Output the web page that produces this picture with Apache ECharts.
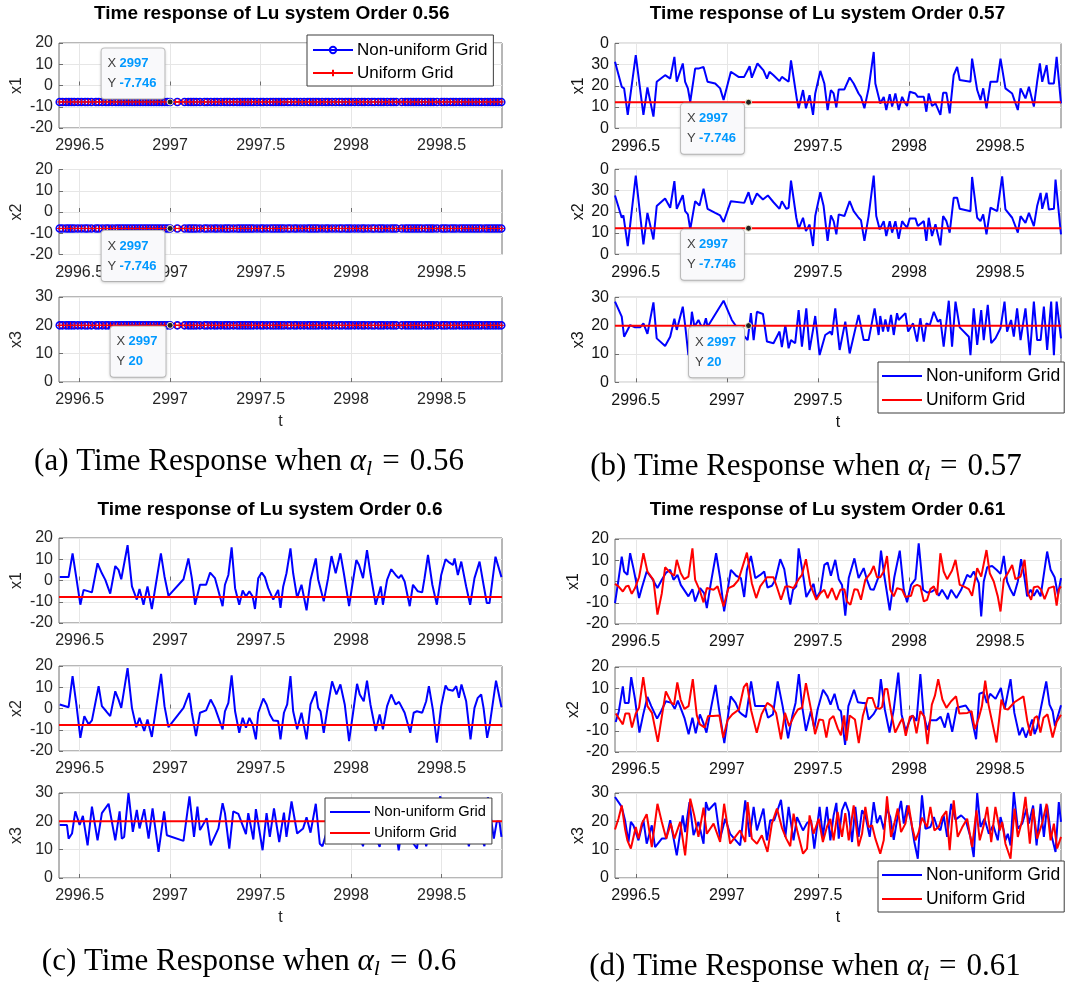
<!DOCTYPE html>
<html><head><meta charset="utf-8">
<script src="https://cdn.jsdelivr.net/npm/echarts@6/dist/echarts.min.js"></script>
<style>html,body{margin:0;padding:0;background:#fff}#c{width:1075px;height:982px}</style>
</head><body><div id="c"></div><script>
// ---------------- DATA ----------------
const xTicks = [2996.5, 2997, 2997.5, 2998, 2998.5];
const tMin = 2996.386, tMax = 2998.834;
const yTicksB12 = ['0', '10', '20', '30', '0']; // labels shown on panel (b) x1/x2 axes (bottom to top)

// panel (a): constant responses on non-uniform / uniform grids
const aX1Val = -7.746, aX2Val = -7.746, aX3Val = 20;
const tNonUniformA = [2996.39,2996.405,2996.425,2996.44,2996.455,2996.47,2996.49,2996.51,2996.53,2996.545,2996.565,2996.59,2996.605,2996.625,2996.645,2996.66,2996.68,2996.7,2996.715,2996.73,2996.745,2996.76,2996.775,2996.79,2996.805,2996.82,2996.835,2996.85,2996.865,2996.88,2996.895,2996.91,2996.925,2996.94,2996.955,2996.97,2996.985,2997.0,2997.04,2997.08,2997.1,2997.115,2997.13,2997.145,2997.165,2997.19,2997.205,2997.225,2997.245,2997.26,2997.28,2997.3,2997.315,2997.33,2997.35,2997.37,2997.385,2997.4,2997.415,2997.43,2997.445,2997.46,2997.48,2997.5,2997.515,2997.535,2997.555,2997.57,2997.585,2997.6,2997.615,2997.63,2997.65,2997.665,2997.685,2997.7,2997.72,2997.74,2997.76,2997.775,2997.79,2997.805,2997.82,2997.84,2997.86,2997.875,2997.895,2997.915,2997.935,2997.95,2997.97,2997.985,2998.0,2998.02,2998.04,2998.06,2998.075,2998.095,2998.115,2998.13,2998.15,2998.165,2998.18,2998.2,2998.22,2998.235,2998.25,2998.28,2998.3,2998.315,2998.33,2998.345,2998.36,2998.375,2998.39,2998.41,2998.425,2998.44,2998.455,2998.475,2998.5,2998.515,2998.53,2998.55,2998.565,2998.58,2998.6,2998.615,2998.63,2998.645,2998.66,2998.675,2998.69,2998.705,2998.72,2998.74,2998.755,2998.77,2998.785,2998.8,2998.815,2998.83];
const tUniformA = [2996.39,2996.41,2996.43,2996.45,2996.47,2996.49,2996.51,2996.53,2996.55,2996.57,2996.59,2996.61,2996.63,2996.65,2996.67,2996.69,2996.71,2996.73,2996.75,2996.77,2996.79,2996.81,2996.83,2996.85,2996.87,2996.89,2996.91,2996.93,2996.95,2996.97,2996.99,2997.01,2997.03,2997.05,2997.07,2997.09,2997.11,2997.13,2997.15,2997.17,2997.19,2997.21,2997.23,2997.25,2997.27,2997.29,2997.31,2997.33,2997.35,2997.37,2997.39,2997.41,2997.43,2997.45,2997.47,2997.49,2997.51,2997.53,2997.55,2997.57,2997.59,2997.61,2997.63,2997.65,2997.67,2997.69,2997.71,2997.73,2997.75,2997.77,2997.79,2997.81,2997.83,2997.85,2997.87,2997.89,2997.91,2997.93,2997.95,2997.97,2997.99,2998.01,2998.03,2998.05,2998.07,2998.09,2998.11,2998.13,2998.15,2998.17,2998.19,2998.21,2998.23,2998.25,2998.27,2998.29,2998.31,2998.33,2998.35,2998.37,2998.39,2998.41,2998.43,2998.45,2998.47,2998.49,2998.51,2998.53,2998.55,2998.57,2998.59,2998.61,2998.63,2998.65,2998.67,2998.69,2998.71,2998.73,2998.75,2998.77,2998.79,2998.81,2998.83];

// panel (b) non-uniform grid
const bX1 = [[2996.386,11.3],[2996.423,-0.5],[2996.436,-1.2],[2996.456,-13.7],[2996.5,14.4],[2996.542,-13.7],[2996.564,-0.8],[2996.597,-14.5],[2996.615,1.9],[2996.661,5],[2996.689,3.4],[2996.712,13.6],[2996.725,1.9],[2996.758,10.5],[2996.771,1.9],[2996.786,-1.2],[2996.799,-7.5],[2996.826,8.1],[2996.844,8.1],[2996.872,8.9],[2996.894,1.9],[2996.936,1.1],[2996.963,-1.2],[2996.982,-6.7],[2997.022,6.6],[2997.064,4.2],[2997.095,4.2],[2997.125,9.2],[2997.137,3.8],[2997.168,10.5],[2997.201,7.3],[2997.22,3.4],[2997.234,6.6],[2997.256,5],[2997.289,2.2],[2997.302,4.2],[2997.339,1.9],[2997.352,12],[2997.385,-6.7],[2997.394,-10.6],[2997.418,-2],[2997.434,-10.6],[2997.454,-4.4],[2997.473,-13.7],[2997.485,-3.6],[2997.513,7],[2997.535,1.1],[2997.553,-11.4],[2997.571,-2],[2997.586,-3.6],[2997.601,-10.2],[2997.614,-1.7],[2997.645,-1.7],[2997.674,3.9],[2997.696,1.1],[2997.723,-3.6],[2997.736,-5.2],[2997.755,-10.6],[2997.778,-1.2],[2997.806,15.9],[2997.815,1.1],[2997.842,-8.3],[2997.861,-5.2],[2997.875,-11.4],[2997.894,-3.9],[2997.907,-9.8],[2997.925,-3.6],[2997.943,-11.4],[2997.962,-5.2],[2997.974,-7.5],[2997.989,-9.5],[2998.004,-2.8],[2998.035,-3.6],[2998.048,-5.2],[2998.081,-5.2],[2998.095,-12.2],[2998.108,-3.6],[2998.126,-9.5],[2998.145,-8.3],[2998.172,-13.7],[2998.187,-3.3],[2998.205,-3.3],[2998.223,-13],[2998.245,5],[2998.264,8.9],[2998.278,2.7],[2998.337,1.9],[2998.346,12.8],[2998.374,-2],[2998.392,-6.7],[2998.407,-1.2],[2998.425,-10.6],[2998.447,1.9],[2998.484,1.9],[2998.502,12.8],[2998.529,-1.2],[2998.566,-3.6],[2998.575,-5.9],[2998.597,-11.4],[2998.612,-1.2],[2998.639,-5.9],[2998.658,-0.5],[2998.685,-9.8],[2998.703,1.9],[2998.718,10.5],[2998.731,1.9],[2998.755,9.7],[2998.767,1.1],[2998.795,1.1],[2998.81,13.6],[2998.834,-8.3]];
const bX2 = [[2996.386,7.7],[2996.423,-2.8],[2996.432,-1.7],[2996.456,-16.1],[2996.5,17],[2996.542,-15.3],[2996.564,-0.5],[2996.597,-13],[2996.615,2.7],[2996.661,6.3],[2996.689,1.9],[2996.712,14.4],[2996.725,1.4],[2996.758,7.8],[2996.771,0.3],[2996.786,-1.2],[2996.799,-8.3],[2996.826,5],[2996.85,3],[2996.872,10.9],[2996.894,1.4],[2996.936,-0.5],[2996.963,-1.7],[2996.982,-4.8],[2997.022,5],[2997.095,4.2],[2997.119,9.2],[2997.137,3.4],[2997.165,8.6],[2997.198,5.8],[2997.225,7.7],[2997.256,4.5],[2997.289,1.4],[2997.302,5],[2997.326,1.4],[2997.339,1.9],[2997.352,14.7],[2997.381,-2.8],[2997.394,-8],[2997.418,-2.8],[2997.434,-9.1],[2997.454,-6],[2997.473,-16.1],[2997.485,-2],[2997.513,9.2],[2997.531,2.7],[2997.553,-13.7],[2997.571,-1.7],[2997.586,-4.4],[2997.601,-10.6],[2997.614,-1.2],[2997.645,-2],[2997.674,5],[2997.696,0.3],[2997.723,-2.8],[2997.736,-3.9],[2997.755,-13.7],[2997.778,-2],[2997.806,17],[2997.82,-2],[2997.839,-8.3],[2997.861,-4.4],[2997.875,-11.4],[2997.894,-4.4],[2997.907,-9.8],[2997.925,-4.4],[2997.943,-12.7],[2997.962,-4.4],[2997.974,-5.9],[2997.989,-7.5],[2998.004,-3.1],[2998.035,-3.1],[2998.048,-6.7],[2998.081,-4.4],[2998.095,-13.7],[2998.108,-2.8],[2998.126,-11.4],[2998.145,-5.9],[2998.172,-15.8],[2998.187,-2],[2998.205,-4.4],[2998.223,-9.8],[2998.245,6.6],[2998.264,6.6],[2998.278,1.4],[2998.337,0.3],[2998.346,16.4],[2998.374,-2.8],[2998.392,-4.4],[2998.407,-1.2],[2998.425,-10.6],[2998.447,1.9],[2998.484,0.3],[2998.511,16.7],[2998.529,1.1],[2998.566,-2.8],[2998.597,-9.8],[2998.612,-2],[2998.639,-5.2],[2998.658,-0.5],[2998.685,-6.7],[2998.703,2.7],[2998.722,8.9],[2998.731,1.4],[2998.755,8.9],[2998.767,1.1],[2998.795,1.4],[2998.804,15.2],[2998.834,-10.6]];
const bX3 = [[2996.386,28.5],[2996.423,23.2],[2996.436,16.1],[2996.469,20.2],[2996.496,19.4],[2996.524,19.4],[2996.542,20.8],[2996.564,17.1],[2996.597,28.2],[2996.615,15.5],[2996.661,12.8],[2996.689,16.1],[2996.712,22.4],[2996.725,18.5],[2996.758,26.7],[2996.771,20.2],[2996.789,9.6],[2996.808,24.9],[2996.822,19.6],[2996.844,22],[2996.857,20.2],[2996.872,19.6],[2996.885,22.6],[2996.894,19.6],[2996.982,28.8],[2997.027,22],[2997.055,19.4],[2997.114,14.9],[2997.132,24.4],[2997.147,14.9],[2997.165,24.9],[2997.198,24.1],[2997.22,14.4],[2997.256,13.8],[2997.289,17.9],[2997.302,12.4],[2997.321,20.2],[2997.339,12],[2997.352,14.9],[2997.375,13.8],[2997.394,25.5],[2997.412,12.6],[2997.436,26.1],[2997.454,11.4],[2997.473,18.5],[2997.485,23.4],[2997.509,9.6],[2997.54,16.7],[2997.568,17.9],[2997.577,16.7],[2997.595,26.1],[2997.619,11.4],[2997.65,21.4],[2997.674,10.2],[2997.723,23.8],[2997.751,14.9],[2997.778,14.9],[2997.811,26.1],[2997.833,16.7],[2997.842,23.4],[2997.857,17.9],[2997.87,22.2],[2997.885,17.9],[2997.901,23.8],[2997.916,16.7],[2997.934,24.4],[2997.943,22],[2997.98,24.4],[2997.995,17.9],[2998.022,20.8],[2998.044,14.4],[2998.062,22.6],[2998.081,14.4],[2998.095,20.8],[2998.114,20.2],[2998.136,24.9],[2998.158,21.4],[2998.172,22.2],[2998.19,12.6],[2998.218,28.8],[2998.236,12.6],[2998.255,28.5],[2998.278,19.4],[2998.328,16.1],[2998.337,9.6],[2998.355,26.1],[2998.374,13.2],[2998.396,25.5],[2998.41,14.9],[2998.432,27.3],[2998.451,13.8],[2998.474,15.5],[2998.502,19.1],[2998.524,28.5],[2998.538,17.9],[2998.56,22],[2998.575,16.1],[2998.593,26.1],[2998.612,14.9],[2998.639,26.1],[2998.663,9.6],[2998.685,28.5],[2998.703,14.9],[2998.722,14.9],[2998.74,26.7],[2998.758,11.4],[2998.78,28.5],[2998.795,9.6],[2998.81,28.5],[2998.834,15.5]];

// panel (c) non-uniform grid
const cX1 = [[2996.39,1.6],[2996.439,1.6],[2996.461,12.8],[2996.482,1.1],[2996.504,-11.4],[2996.522,-4.4],[2996.55,-5.1],[2996.568,-5.6],[2996.599,8.1],[2996.623,3.4],[2996.642,0.3],[2996.669,-6.2],[2996.697,6.8],[2996.715,5],[2996.73,0.6],[2996.765,16.6],[2996.789,-2.8],[2996.816,-9],[2996.831,-4],[2996.853,-11.4],[2996.875,-2.8],[2996.899,-13.4],[2996.949,12.8],[2996.969,1.9],[2996.991,-7.2],[2997.074,0.6],[2997.101,10.4],[2997.12,1.1],[2997.138,-11.4],[2997.165,-2],[2997.199,-2],[2997.221,3.7],[2997.248,1.1],[2997.29,-12.1],[2997.303,-2],[2997.322,2.6],[2997.34,15.6],[2997.359,-3.6],[2997.382,-11.4],[2997.401,-4.7],[2997.419,-7.5],[2997.438,-5.1],[2997.456,-7.5],[2997.469,-13.4],[2997.487,1.1],[2997.506,3.7],[2997.524,1.6],[2997.542,-3.6],[2997.57,-9],[2997.597,-4.4],[2997.61,-12.9],[2997.625,-2.8],[2997.643,3.4],[2997.665,15.1],[2997.68,3.4],[2997.702,-8.2],[2997.726,-2],[2997.754,-14],[2997.776,0.3],[2997.805,10.4],[2997.818,0.6],[2997.849,-9.8],[2997.873,1.1],[2997.892,11.5],[2997.915,3.4],[2997.941,12.8],[2997.96,3.4],[2997.989,-12.1],[2998.007,-2],[2998.029,9.6],[2998.044,7.3],[2998.066,1.1],[2998.088,14.3],[2998.107,3.4],[2998.136,-11.4],[2998.164,-2.8],[2998.176,-11.4],[2998.199,0.3],[2998.222,5.3],[2998.246,2.6],[2998.263,1.1],[2998.278,2.6],[2998.296,-0.5],[2998.324,-12.1],[2998.342,-2],[2998.369,-5.1],[2998.393,-5.6],[2998.406,1.1],[2998.425,12],[2998.449,-2],[2998.474,-11.4],[2998.498,2.6],[2998.522,10],[2998.544,8.4],[2998.563,7.3],[2998.572,10.4],[2998.59,2.6],[2998.609,8.9],[2998.636,-2.8],[2998.658,-11.4],[2998.682,1.1],[2998.71,8.9],[2998.732,-2],[2998.75,-10.6],[2998.765,-10.6],[2998.798,11.2],[2998.831,1.6]];
const cX2 = [[2996.39,1.9],[2996.439,0.6],[2996.461,15.2],[2996.482,1.9],[2996.504,-13.8],[2996.526,-3.6],[2996.55,-7.5],[2996.568,-5.6],[2996.605,10.5],[2996.623,1.1],[2996.647,-1.3],[2996.669,-3.6],[2996.697,8.1],[2996.715,4.2],[2996.73,0.3],[2996.765,19],[2996.789,0.3],[2996.813,-8.8],[2996.831,-4.4],[2996.857,-10.6],[2996.875,-5.2],[2996.899,-13.4],[2996.95,16.3],[2996.969,1.1],[2996.991,-8.8],[2997.074,0.3],[2997.105,7.3],[2997.12,-2],[2997.143,-13],[2997.165,-2],[2997.199,-0.9],[2997.224,4.2],[2997.248,0.3],[2997.29,-9.8],[2997.303,-1.3],[2997.322,2.7],[2997.34,15.6],[2997.359,-1.3],[2997.382,-11.4],[2997.401,-4.4],[2997.419,-9],[2997.438,-4.4],[2997.456,-7.5],[2997.474,-14.5],[2997.487,-2],[2997.515,4.7],[2997.533,1.9],[2997.551,-2.8],[2997.57,-5.6],[2997.597,-5.9],[2997.61,-14.5],[2997.629,-2],[2997.647,1.9],[2997.665,15.2],[2997.68,-1.3],[2997.702,-9.8],[2997.726,-2],[2997.754,-14.5],[2997.776,1.9],[2997.805,8.1],[2997.818,0.3],[2997.831,-1.3],[2997.849,-11.4],[2997.873,1.9],[2997.895,12.8],[2997.919,6.6],[2997.941,11.3],[2997.965,1.9],[2997.989,-15.3],[2998.011,-2],[2998.033,11.6],[2998.048,6.6],[2998.07,3.4],[2998.088,13.1],[2998.107,1.9],[2998.136,-10.6],[2998.158,-2.8],[2998.176,-9.8],[2998.199,1.1],[2998.222,6.6],[2998.246,1.9],[2998.265,3.1],[2998.296,-2],[2998.327,-11.4],[2998.346,-2],[2998.364,-1.3],[2998.393,-2],[2998.415,3.4],[2998.43,10.5],[2998.452,-0.5],[2998.474,-16.1],[2998.498,1.1],[2998.522,10.8],[2998.535,8.9],[2998.563,8.4],[2998.581,10.5],[2998.596,5],[2998.61,11.3],[2998.636,3.4],[2998.66,-14.5],[2998.682,0.3],[2998.7,5],[2998.719,6.6],[2998.732,0.3],[2998.752,-13.8],[2998.765,-8.3],[2998.801,13.1],[2998.831,0.6]];
const cX3 = [[2996.39,18.7],[2996.43,18.7],[2996.439,13.9],[2996.458,15.7],[2996.476,23.5],[2996.5,18.7],[2996.518,21.9],[2996.544,11.5],[2996.568,25.2],[2996.599,13.3],[2996.623,22.9],[2996.66,26.2],[2996.697,13.3],[2996.721,23.5],[2996.733,13.9],[2996.746,14.5],[2996.77,30],[2996.794,16.3],[2996.816,24],[2996.831,17.5],[2996.857,24.3],[2996.881,13.9],[2996.903,24.6],[2996.936,9.2],[2996.967,23.5],[2996.982,15.1],[2997.074,13.1],[2997.107,28.8],[2997.132,14.5],[2997.151,25.2],[2997.165,16.9],[2997.202,21.1],[2997.224,11.5],[2997.267,17.5],[2997.29,26.4],[2997.303,22.9],[2997.327,10.4],[2997.349,23.5],[2997.377,22.6],[2997.419,15.5],[2997.432,22.9],[2997.46,13.6],[2997.474,24.3],[2997.511,9.8],[2997.533,22.9],[2997.551,14.5],[2997.574,24.6],[2997.603,12.7],[2997.629,23.1],[2997.643,14.5],[2997.671,27],[2997.702,15.7],[2997.735,17.5],[2997.754,21.4],[2997.776,16],[2997.805,26.2],[2997.827,12.1],[2997.842,11.2],[2997.873,18],[2997.901,24],[2997.928,15],[2997.956,22],[2997.983,14],[2998.011,23],[2998.039,16],[2998.066,11.2],[2998.094,22],[2998.121,17],[2998.158,11],[2998.186,24],[2998.213,15],[2998.235,22],[2998.263,9.8],[2998.296,23],[2998.324,14],[2998.364,10.4],[2998.388,22],[2998.415,11.2],[2998.452,20],[2998.493,28.8],[2998.526,17],[2998.553,24],[2998.581,15],[2998.609,23],[2998.651,11.2],[2998.682,22],[2998.71,16],[2998.737,11.2],[2998.756,28.5],[2998.789,13.9],[2998.805,19.9],[2998.82,19.9],[2998.831,14.5]];

// panel (d) non-uniform (blue) and uniform (red) grids
const dX1N = [[2996.386,-10.2],[2996.405,0.8],[2996.423,11.7],[2996.436,4.7],[2996.454,3.1],[2996.469,13.3],[2996.487,6.3],[2996.5,0.8],[2996.518,-7.8],[2996.533,-3.1],[2996.56,4.7],[2996.588,1.6],[2996.619,-3.1],[2996.643,0.8],[2996.667,4.2],[2996.689,5.5],[2996.707,0.8],[2996.729,3.1],[2996.747,-1.6],[2996.789,-7],[2996.811,-3.6],[2996.826,-9.4],[2996.853,-3.1],[2996.875,-5.5],[2996.89,-12.5],[2996.912,-0.8],[2996.941,13.3],[2996.963,1.6],[2996.985,-14.1],[2997.022,5.5],[2997.051,2.7],[2997.077,1.6],[2997.095,-7.3],[2997.11,5.5],[2997.132,12],[2997.156,1.6],[2997.183,3.1],[2997.205,4.7],[2997.223,-2.8],[2997.247,-2],[2997.266,0.8],[2997.293,10.5],[2997.315,5.8],[2997.339,-7],[2997.348,-10.9],[2997.363,-3.9],[2997.381,-2.3],[2997.394,15.6],[2997.421,1.6],[2997.436,-7.3],[2997.458,-3.9],[2997.476,-1.1],[2997.491,-7.8],[2997.513,-4.7],[2997.535,7.8],[2997.553,8.9],[2997.571,2.7],[2997.595,10.2],[2997.614,1.1],[2997.632,-1.6],[2997.65,-16.1],[2997.669,1.6],[2997.7,10.9],[2997.723,1.6],[2997.751,6.3],[2997.769,0.8],[2997.788,-3.6],[2997.806,-3.9],[2997.833,2.3],[2997.846,14.5],[2997.864,2.7],[2997.894,-13.6],[2997.919,2],[2997.949,14.5],[2997.971,-3.9],[2997.989,-9.8],[2998.011,-1.6],[2998.035,1.1],[2998.053,18],[2998.077,-3.9],[2998.099,-5.2],[2998.126,-4.7],[2998.145,-3.6],[2998.163,-6.7],[2998.181,-3.9],[2998.212,-8.3],[2998.231,-3.9],[2998.26,-7.8],[2998.286,-3.9],[2998.319,3.1],[2998.337,2],[2998.355,4.7],[2998.383,-0.8],[2998.396,-16.4],[2998.41,0],[2998.429,6.7],[2998.456,7.3],[2998.48,5.5],[2998.502,3.6],[2998.52,12],[2998.538,0],[2998.557,-3.9],[2998.575,-6.7],[2998.597,0],[2998.615,10.5],[2998.634,1.6],[2998.648,-7],[2998.667,-3.9],[2998.685,-6.7],[2998.703,-3.9],[2998.722,-7],[2998.736,1.1],[2998.758,14.1],[2998.777,5.5],[2998.799,2],[2998.817,-6.3],[2998.834,1.6]];
const dX1U = [[2996.386,-1.1],[2996.405,-2.3],[2996.429,-4.7],[2996.447,-2.3],[2996.46,-2],[2996.478,-5.8],[2996.496,-3.1],[2996.518,2],[2996.542,13.3],[2996.564,4.7],[2996.597,0.8],[2996.619,-15.6],[2996.643,-5.5],[2996.661,6.7],[2996.689,4.2],[2996.711,2.7],[2996.725,10.2],[2996.747,3.9],[2996.766,1.1],[2996.789,2.3],[2996.811,15.6],[2996.826,0.8],[2996.85,-3.9],[2996.872,-9.8],[2996.89,-3.1],[2996.927,-3.9],[2996.949,-2.3],[2996.982,-11.7],[2997.009,-3.1],[2997.037,-2],[2997.064,0.8],[2997.11,13.6],[2997.137,-0.8],[2997.161,-7.8],[2997.183,-2.3],[2997.22,2],[2997.256,2],[2997.275,-2.7],[2997.297,-8.6],[2997.321,-2.3],[2997.339,-2.3],[2997.366,-3.1],[2997.394,1.1],[2997.412,3.1],[2997.434,10.5],[2997.458,-1.6],[2997.491,-8.6],[2997.513,-5.5],[2997.535,-3.9],[2997.553,-7.8],[2997.577,-3.1],[2997.601,-8.6],[2997.623,-3.9],[2997.645,-3.6],[2997.659,-9.4],[2997.678,-10.9],[2997.7,-3.6],[2997.718,-3.9],[2997.736,-8.6],[2997.76,0.8],[2997.788,3.9],[2997.806,7.3],[2997.824,2],[2997.842,2],[2997.861,4.7],[2997.879,12],[2997.897,-3.9],[2997.916,-7],[2997.934,-3.1],[2997.962,-3.9],[2997.98,-7.3],[2998.011,-6.7],[2998.026,-2.3],[2998.044,-1.6],[2998.062,-2.3],[2998.081,-9.4],[2998.099,-8.6],[2998.117,-3.6],[2998.136,-2.3],[2998.154,-6.3],[2998.172,13.3],[2998.19,4.7],[2998.209,1.1],[2998.236,5.2],[2998.255,10.2],[2998.278,-1.6],[2998.3,-2.3],[2998.328,-3.6],[2998.346,-6.7],[2998.374,6.3],[2998.396,2.3],[2998.425,14.8],[2998.443,3.9],[2998.465,0],[2998.487,-7],[2998.502,-14.1],[2998.52,0.8],[2998.542,3.9],[2998.566,7.8],[2998.584,1.1],[2998.612,2.3],[2998.634,10.2],[2998.652,-5.5],[2998.67,-8.6],[2998.685,-2.7],[2998.707,-2.3],[2998.725,-3.9],[2998.744,-8.3],[2998.767,-3.1],[2998.795,-2.3],[2998.81,-11.4],[2998.822,-3.9],[2998.834,-2.3]];
const dX2N = [[2996.39,-5.9],[2996.407,-0.8],[2996.429,10.9],[2996.44,3.1],[2996.461,3.1],[2996.475,15.2],[2996.496,4.7],[2996.52,-10.9],[2996.541,-2.3],[2996.564,5.9],[2996.585,1.6],[2996.617,-4.3],[2996.639,-0.8],[2996.665,3.9],[2996.696,3.1],[2996.714,0.3],[2996.731,4.2],[2996.767,-3.9],[2996.79,-11.6],[2996.811,-3.9],[2996.829,-11.2],[2996.852,-2.3],[2996.87,-6.2],[2996.888,-10.9],[2996.915,1.6],[2996.938,11.6],[2996.956,0.8],[2996.986,-15.8],[2997.021,6.2],[2997.048,3.1],[2997.069,-1.2],[2997.084,-2.3],[2997.105,-3.6],[2997.133,13.2],[2997.155,1.6],[2997.181,1.6],[2997.208,1.6],[2997.226,-3.9],[2997.253,-2.3],[2997.279,13.2],[2997.306,1.6],[2997.336,-13.6],[2997.359,-3.1],[2997.377,3.1],[2997.395,16.7],[2997.413,1.6],[2997.434,-10.1],[2997.461,-0.8],[2997.48,-9],[2997.498,0],[2997.528,9.3],[2997.552,6.2],[2997.569,2.3],[2997.591,7.4],[2997.612,0.3],[2997.626,-0.8],[2997.649,-16.7],[2997.667,1.6],[2997.698,9.3],[2997.719,3.4],[2997.746,3.1],[2997.76,3.1],[2997.778,-4.7],[2997.804,-2.3],[2997.831,1.6],[2997.845,14.3],[2997.867,0],[2997.893,-10.9],[2997.916,0],[2997.941,17.4],[2997.959,-2.3],[2997.982,-10.1],[2998.0,-5.9],[2998.018,-2.8],[2998.041,-5.4],[2998.062,16.7],[2998.08,-2.3],[2998.101,-9.6],[2998.116,-5],[2998.151,-5],[2998.173,-3.4],[2998.196,-8.5],[2998.214,-1.6],[2998.237,-10.5],[2998.262,0.8],[2998.311,1.9],[2998.338,-1.6],[2998.347,-5.4],[2998.368,-14],[2998.386,7.4],[2998.409,8.1],[2998.427,3.1],[2998.445,7.4],[2998.475,5],[2998.504,10.1],[2998.525,0.3],[2998.557,14.3],[2998.578,-1.6],[2998.605,-12.1],[2998.623,-8.5],[2998.641,-13.2],[2998.658,-9.3],[2998.676,-4.7],[2998.689,-11.6],[2998.703,-8.5],[2998.724,0.8],[2998.753,13.2],[2998.771,2.3],[2998.788,-0.8],[2998.801,-7.8],[2998.834,2]];
const dX2U = [[2996.39,-1.9],[2996.429,-7],[2996.443,-1.9],[2996.464,-1.9],[2996.479,-8.5],[2996.5,-1.9],[2996.518,0.8],[2996.541,15.2],[2996.564,1.6],[2996.589,-1.6],[2996.621,-15.2],[2996.665,8.5],[2996.696,3.1],[2996.71,2.3],[2996.728,12.7],[2996.746,4.7],[2996.767,0.3],[2996.79,1.6],[2996.813,14.3],[2996.835,-2.8],[2996.852,-7],[2996.879,-8.5],[2996.897,-3.1],[2996.924,-3.1],[2996.959,-2.8],[2996.98,-13.2],[2997.004,-5],[2997.03,-2.3],[2997.066,0],[2997.093,10.5],[2997.11,12.4],[2997.133,-0.3],[2997.164,-10.9],[2997.19,-2.3],[2997.222,3.1],[2997.247,1.6],[2997.27,-1.6],[2997.297,-14],[2997.319,-1.6],[2997.342,-7.8],[2997.368,-3.1],[2997.39,0],[2997.413,0.8],[2997.434,12.4],[2997.448,6.2],[2997.466,-1.9],[2997.484,-11.6],[2997.507,-4.7],[2997.528,-5],[2997.546,-13.2],[2997.564,-4.7],[2997.585,-3.1],[2997.609,-9],[2997.626,-12.1],[2997.644,-2.8],[2997.657,-14.7],[2997.674,-2.8],[2997.703,-4.7],[2997.724,-15.8],[2997.746,-3.1],[2997.774,5.4],[2997.799,5.4],[2997.817,0.8],[2997.84,0.3],[2997.852,1.2],[2997.867,9.6],[2997.881,9.6],[2997.902,-1.6],[2997.924,-10.9],[2997.952,-5.9],[2997.964,-4.3],[2997.982,-12.4],[2998.005,-3.4],[2998.023,-3.1],[2998.041,-11.2],[2998.062,-0.8],[2998.084,-3.4],[2998.101,-16.3],[2998.125,2.3],[2998.142,6.5],[2998.16,14.3],[2998.183,4.7],[2998.205,0.8],[2998.231,3.9],[2998.258,6.2],[2998.276,-1.9],[2998.32,-1.6],[2998.343,-0.8],[2998.361,-9.3],[2998.383,-3.9],[2998.4,1.6],[2998.418,13.6],[2998.436,2.3],[2998.48,-15.5],[2998.507,4.7],[2998.525,0.3],[2998.543,0],[2998.578,3.4],[2998.628,6.2],[2998.649,-5.4],[2998.667,-12.4],[2998.689,-3.9],[2998.703,-3.1],[2998.721,-10.9],[2998.738,-3.9],[2998.76,-2.3],[2998.788,-13.2],[2998.81,-5.9],[2998.834,-2.5]];
const dX3N = [[2996.386,28.6],[2996.423,25.1],[2996.441,20.4],[2996.46,12.7],[2996.473,19.8],[2996.487,18.6],[2996.515,13.3],[2996.542,20.4],[2996.56,12.1],[2996.588,18.6],[2996.606,10.9],[2996.643,13.9],[2996.667,13.9],[2996.689,20.4],[2996.725,8],[2996.758,22.1],[2996.771,16.2],[2996.795,26.8],[2996.817,15.1],[2996.844,19.8],[2996.872,12.1],[2996.885,26.8],[2996.899,23.9],[2996.936,26.5],[2996.963,13.9],[2996.991,20.9],[2997.018,15.6],[2997.073,11.5],[2997.101,27.4],[2997.125,14.5],[2997.147,25.1],[2997.165,16.8],[2997.201,24.5],[2997.22,13.3],[2997.238,20.4],[2997.26,20.4],[2997.297,27.6],[2997.321,14.5],[2997.339,25.1],[2997.366,13.3],[2997.385,21.5],[2997.418,16.8],[2997.44,19.4],[2997.462,20.4],[2997.48,10.4],[2997.509,25.1],[2997.527,14.5],[2997.549,25.1],[2997.568,13.3],[2997.586,22.1],[2997.601,26.5],[2997.614,13.9],[2997.632,23.9],[2997.65,26.8],[2997.669,23.3],[2997.687,12.7],[2997.705,25.1],[2997.723,14.5],[2997.742,23.9],[2997.76,22.1],[2997.784,14.5],[2997.806,26.8],[2997.824,19.4],[2997.842,22.1],[2997.861,17.1],[2997.879,24.5],[2997.897,21.5],[2997.916,13.5],[2997.934,20.4],[2997.956,27.2],[2997.971,19.2],[2997.989,25.6],[2998.011,20.1],[2998.029,12.7],[2998.048,6.8],[2998.071,29.2],[2998.09,17.4],[2998.117,18],[2998.136,21.5],[2998.154,18],[2998.172,16.8],[2998.19,22.1],[2998.209,14.5],[2998.231,26.2],[2998.255,20.6],[2998.286,22.1],[2998.31,20.6],[2998.337,14.5],[2998.355,7.4],[2998.374,30],[2998.392,18],[2998.414,20.9],[2998.438,15.6],[2998.462,18.6],[2998.487,13.3],[2998.502,21.5],[2998.516,18],[2998.529,13.3],[2998.542,15.6],[2998.557,11.5],[2998.575,30.4],[2998.597,17.4],[2998.621,19.2],[2998.645,24.5],[2998.658,19.2],[2998.681,25.6],[2998.7,11.5],[2998.722,26.2],[2998.74,14.5],[2998.758,25.6],[2998.777,16.2],[2998.804,9.2],[2998.822,26.8],[2998.834,19.8]];
const dX3U = [[2996.386,17.1],[2996.405,20.9],[2996.423,25.6],[2996.441,17.4],[2996.454,13.3],[2996.473,10.4],[2996.5,18],[2996.515,13.9],[2996.533,19.2],[2996.56,22.5],[2996.588,10.9],[2996.619,26.2],[2996.643,19.8],[2996.667,13.9],[2996.692,19.2],[2996.712,13.9],[2996.744,19.8],[2996.771,8],[2996.799,28],[2996.821,22.1],[2996.844,14.5],[2996.872,24.8],[2996.89,15.6],[2996.927,19.2],[2996.963,12.7],[2996.985,26.2],[2997.018,12.1],[2997.073,16.8],[2997.101,12.7],[2997.114,26.8],[2997.137,13.9],[2997.165,12.1],[2997.192,15.1],[2997.223,9.2],[2997.247,19.2],[2997.275,24.5],[2997.302,17.8],[2997.326,13.9],[2997.348,11.2],[2997.366,22.7],[2997.388,16.2],[2997.418,8.6],[2997.44,10.4],[2997.454,22.1],[2997.476,15.6],[2997.504,20.9],[2997.527,12.7],[2997.549,18],[2997.568,20.9],[2997.586,13.3],[2997.608,23.3],[2997.632,14.5],[2997.65,22.9],[2997.669,13.3],[2997.696,25.6],[2997.723,11.2],[2997.742,15.6],[2997.76,25.1],[2997.778,18],[2997.797,18.6],[2997.815,13.9],[2997.842,8.6],[2997.861,13.3],[2997.879,28.8],[2997.901,14.5],[2997.919,19.2],[2997.938,24.5],[2997.956,16.2],[2997.98,19.2],[2997.998,25.6],[2998.017,18],[2998.035,13.3],[2998.053,16.2],[2998.071,21.3],[2998.099,18],[2998.117,25.1],[2998.139,16.8],[2998.163,18],[2998.181,21.5],[2998.205,23.6],[2998.223,9.8],[2998.245,27.4],[2998.267,14.5],[2998.291,17.8],[2998.319,20.9],[2998.346,10.9],[2998.37,23.9],[2998.388,13.3],[2998.41,18.6],[2998.429,25.1],[2998.451,12.7],[2998.474,25.1],[2998.498,16.8],[2998.511,19.8],[2998.529,12.1],[2998.557,6.8],[2998.579,24.5],[2998.597,14.5],[2998.621,20.4],[2998.639,28.6],[2998.663,12.1],[2998.681,24.5],[2998.703,13.9],[2998.731,19.4],[2998.755,26.2],[2998.777,13.3],[2998.795,19.2],[2998.813,10.4],[2998.834,14.5]];

// data tips shown in panels (a) and (b)
const tipA = [[2997, -7.746], [2997, -7.746], [2997, 20]];
const tipB = [[2997.119, -7.746], [2997.119, -7.746], [2997.119, 20]];
const tipXText = ['2997', '2997', '2997', '2997', '2997', '2997'];
const tipYText = ['-7.746', '-7.746', '20', '-7.746', '-7.746', '20'];

const panelTitles = ['Time response of Lu system Order 0.56', 'Time response of Lu system Order 0.57', 'Time response of Lu system Order 0.6', 'Time response of Lu system Order 0.61'];
const captionTag = ['(a)', '(b)', '(c)', '(d)'];
const captionOrder = ['0.56', '0.57', '0.6', '0.61'];
const yNames = ['x1', 'x2', 'x3'];

// ---------------- LAYOUT / STYLE ----------------
const SANS = 'Liberation Sans, Arial, sans-serif';
const SERIF = 'Liberation Serif, Times New Roman, serif';
const BLUE = '#0000ff', RED = '#ff0000';
const BOX = '#6e6e6e', GRIDC = '#e6e6e6';
const panelLeft = [59, 615, 59, 615];
const panelWidth = [443, 446, 443, 446];
const panelTops = [[43, 169.5, 297], [43.3, 169.3, 297.3], [538, 666, 793], [539, 667, 793]];
const H = 85;

const grid = [], xAxis = [], yAxis = [], series = [];
for (let p = 0; p < 4; p++) {
  for (let k = 0; k < 3; k++) {
    const gi = p * 3 + k;
    const right = (p % 2 === 1);
    const labColor = right ? '#141414' : '#262626';
    grid.push({ left: panelLeft[p], top: panelTops[p][k], width: panelWidth[p], height: H,
      show: true, borderColor: BOX, borderWidth: 1, backgroundColor: '#fff', containLabel: false });
    xAxis.push({ type: 'value', gridIndex: gi, min: tMin, max: tMax,
      axisLine: { show: false },
      axisTick: { show: true, inside: true, length: 4, customValues: xTicks, lineStyle: { color: BOX } },
      axisLabel: { customValues: xTicks, formatter: v => String(v), fontSize: 16, margin: 10, color: labColor, fontFamily: SANS },
      splitLine: { show: true, lineStyle: { color: GRIDC, width: 1 } },
      name: k === 2 ? 't' : '', nameLocation: 'middle', nameGap: 32,
      nameTextStyle: { fontSize: 16, color: labColor, fontFamily: SANS } });
    const isX3 = (k === 2);
    const yCfg = { type: 'value', gridIndex: gi, min: isX3 ? 0 : -20, max: isX3 ? 30 : 20, interval: 10,
      axisLine: { show: false },
      axisTick: { show: true, inside: true, length: 4, lineStyle: { color: BOX } },
      axisLabel: { fontSize: 16, margin: 6, color: labColor, fontFamily: SANS, showMinLabel: true, showMaxLabel: true },
      splitLine: { show: true, lineStyle: { color: GRIDC, width: 1 } },
      name: yNames[k], nameLocation: 'middle', nameGap: right ? 28 : 34,
      nameTextStyle: { fontSize: 16, color: labColor, fontFamily: SANS } };
    if (p === 1 && !isX3) yCfg.axisLabel.formatter = v => yTicksB12[Math.round((v + 20) / 10)];
    yAxis.push(yCfg);
  }
}

function line(name, gi, data, color, extra) {
  return Object.assign({ type: 'line', name, xAxisIndex: gi, yAxisIndex: gi, data,
    symbol: 'none', color, lineStyle: { color, width: 2 }, itemStyle: { color },
    silent: true, animation: false, z: 2 }, extra || {});
}

// panel (a)
const aVals = [aX1Val, aX2Val, aX3Val];
for (let k = 0; k < 3; k++) {
  series.push(line('Non-uniform Grid#a', k, tNonUniformA.map(t => [t, aVals[k]]), BLUE, {
    symbol: 'circle', symbolSize: 7, showSymbol: true, showAllSymbol: true,
    lineStyle: { color: BLUE, width: 1 },
    itemStyle: { color: 'rgba(0,0,0,0)', borderColor: BLUE, borderWidth: 1.6 } }));
  series.push(line('Uniform Grid#a', k, tUniformA.map(t => [t, aVals[k]]), RED, {
    symbol: 'path://M5,0L5,10M0,5L10,5', symbolSize: 6, showSymbol: true, showAllSymbol: true,
    lineStyle: { color: RED, width: 1 },
    itemStyle: { color: RED, borderColor: RED, borderWidth: 1 } }));
}
// panel (b)
[bX1, bX2, bX3].forEach((d, k) => {
  series.push(line('Non-uniform Grid#b', 3 + k, d, BLUE));
  series.push(line('Uniform Grid#b', 3 + k, [[tMin, aVals[k]], [tMax, aVals[k]]], RED));
});
// panel (c)
[cX1, cX2, cX3].forEach((d, k) => {
  series.push(line('Non-uniform Grid#c', 6 + k, d, BLUE));
  series.push(line('Uniform Grid#c', 6 + k, [[tMin, aVals[k]], [tMax, aVals[k]]], RED));
});
// panel (d)
[[dX1N, dX1U], [dX2N, dX2U], [dX3N, dX3U]].forEach((pair, k) => {
  series.push(line('Non-uniform Grid#d', 9 + k, pair[0], BLUE));
  series.push(line('Uniform Grid#d', 9 + k, pair[1], RED));
});

// data tips (drawn on their own layer, above the axes, fully opaque)
const tipPos = [[-65, -50], [-65, 6], [-56, 5], [-64, 5], [-64, 5], [-56, 5]];
tipA.concat(tipB).forEach((pt, i) => {
  series.push({ type: 'scatter', name: 'tip', xAxisIndex: i, yAxisIndex: i, data: [pt],
    symbol: 'circle', symbolSize: 6, silent: true, animation: false, zlevel: 1, z: 5,
    itemStyle: { color: '#222', borderColor: '#efedd0', borderWidth: 1, opacity: 1 },
    label: { show: true, position: tipPos[i], opacity: 1,
      formatter: () => '{k|X} {v|' + tipXText[i] + '}\n{k|Y} {v|' + tipYText[i] + '}',
      backgroundColor: '#f9f9fb', borderColor: '#c4c4c4', borderWidth: 1, borderRadius: 3,
      shadowBlur: 3, shadowColor: 'rgba(0,0,0,0.15)', shadowOffsetY: 1,
      padding: [5, 8, 5, 6], lineHeight: 20,
      rich: { k: { color: '#404040', fontSize: 13, fontFamily: SANS, lineHeight: 20 },
              v: { color: '#0099ff', fontSize: 13, fontWeight: 'bold', fontFamily: SANS, lineHeight: 20 } } } });
});

const legendBase = (suffix, left, top, fs, lh, gap, pad, iconRect) => ({
  show: true, orient: 'vertical', left, top, padding: pad, itemGap: gap,
  itemWidth: 40, itemHeight: iconRect ? 2 : 8,
  icon: iconRect ? 'rect' : undefined,
  data: ['Non-uniform Grid#' + suffix, 'Uniform Grid#' + suffix],
  formatter: n => n.split('#')[0],
  backgroundColor: '#fff', borderColor: '#3c3c3c', borderWidth: 1, borderRadius: 0,
  selectedMode: false,
  textStyle: { fontSize: fs, lineHeight: lh, color: '#000', fontFamily: SANS, padding: [0, 0, 0, -1] }
});

const legend = [
  legendBase('a', 307, 35, 17, 18, 5, [6, 6, 4, 5], false),
  legendBase('b', 878, 362, 17.5, 18, 6, [5, 4, 4, 4], true),
  legendBase('c', 325, 798, 14.6, 16, 5, [6, 6, 3, 5], true),
  legendBase('d', 878, 861, 17.5, 18, 6, [5, 4, 4, 4], true)
];

const titlePos = [[271.7, 13.5], [827.5, 13.5], [270, 510], [827.5, 510]];
const capPos = [[249, 462], [806, 467], [249, 962], [805, 967]];
const graphic = [];
for (let p = 0; p < 4; p++) {
  graphic.push({ type: 'text', x: titlePos[p][0], y: titlePos[p][1], silent: true,
    style: { text: panelTitles[p], fontFamily: SANS, fontWeight: 'bold', fontSize: 19, fill: '#000',
      align: 'center', verticalAlign: 'middle' } });
  graphic.push({ type: 'text', x: capPos[p][0], y: capPos[p][1], silent: true,
    style: { text: captionTag[p] + ' Time Response when {al|α}{sub|l}{eq|=}' + captionOrder[p],
      fontFamily: SERIF, fontSize: 31, fill: '#000', align: 'center', verticalAlign: 'middle', lineHeight: 37,
      rich: { al: { fontFamily: SERIF, fontSize: 31, fontStyle: 'italic', fill: '#000', lineHeight: 37 },
              sub: { fontFamily: SERIF, fontSize: 22, fontStyle: 'italic', fill: '#000', verticalAlign: 'bottom', lineHeight: 22 },
              eq: { fontFamily: SERIF, fontSize: 31, fill: '#000', padding: [0, 10, 0, 10], lineHeight: 37 } } } });
}

const chart = echarts.init(document.getElementById('c'), null, { renderer: 'canvas' });
chart.setOption({ animation: false, backgroundColor: '#fff', grid, xAxis, yAxis, series, legend, graphic });
</script></body></html>
